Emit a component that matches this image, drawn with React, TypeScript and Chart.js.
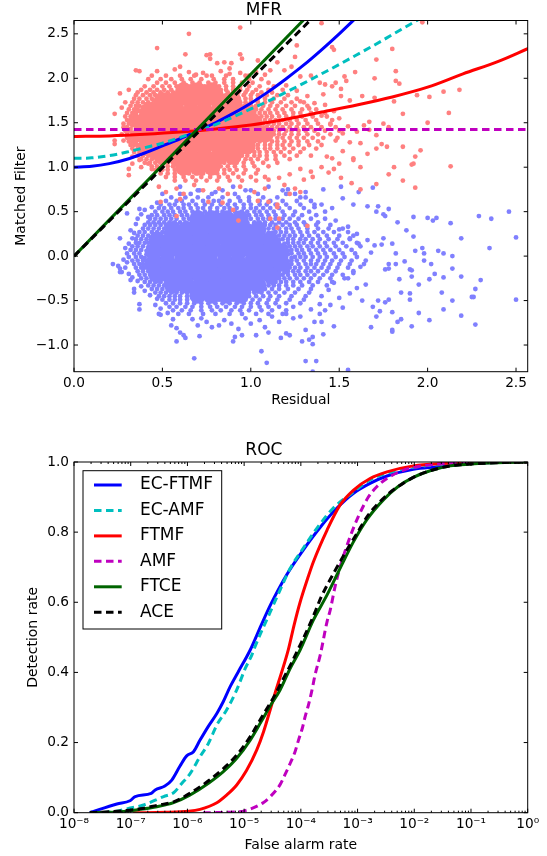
import React, { useEffect, useRef } from "react";
import { Chart, registerables } from "chart.js";

Chart.register(...registerables);

const FONT = '"DejaVu Sans"';

// ---------- MFR scatter, values in hundredths ----------
// Centres of the solid heart of each cloud: [y, x, x, ...]
const blueSolidRows: number[][] = [
  [42, 70,78,86,94],
  [30, 56,64,72,80,88,96,104],
  [18, 47,55,63,71,79,87,95,103,111],
  [5, 45,53,61,69,77,85,93,101,109,117],
  [-8, 45,53,61,69,77,85,93,101,109,117],
  [-21, 47,55,63,71,79,87,95,103,111],
  [-33, 56,64,72,80,88,96,104],
  [-44, 70,78,86,94],
];
const redSolidRows: number[][] = [
  [186, 62,70,78],
  [175, 50,58,66,74,82,90],
  [163, 42,50,58,66,74,82,90,98],
  [150, 38,46,54,62,70,78,86,94,102],
  [137, 38,46,54,62,70,78,86,94,102,108],
  [124, 42,50,58,66,74,82,90,98],
  [112, 50,58,66,74,82,90],
  [100, 62,70,78],
];

// Dense part of each cloud: every row is [y, x, x, x, ...]
const blueDenseRows: number[][] = [
  [34, 64,67,69,72,74,77,79,82,84,87,89,92,94,97,99],
  [30, 57,60,62,65,67,70,72,75,77,80,82,85,87,90,92,95,97,100,102,105,107],
  [26, 52,55,57,60,62,65,67,70,72,75,77,80,82,85,87,90,92,95,97,100,102,105,107,110,112],
  [22, 49,51,54,56,59,61,64,66,69,71,74,76,79,81,84,86,89,91,94,96,99,101,104,106,109,111,114],
  [18, 46,48,51,53,56,58,61,63,66,68,71,73,76,78,81,83,86,88,91,93,96,98,101,103,106,108,111,113,116],
  [14, 44,46,49,51,54,56,59,61,64,66,69,71,74,76,79,81,84,86,89,91,94,96,99,101,104,106,109,111,114,116,119],
  [10, 42,45,47,50,52,55,57,60,62,65,67,70,72,75,77,80,82,85,87,90,92,95,97,100,102,105,107,110,112,115,117,120],
  [6, 41,44,46,49,51,54,56,59,61,64,66,69,71,74,76,79,81,84,86,89,91,94,96,99,101,104,106,109,111,114,116,119,121],
  [2, 41,43,46,48,51,53,56,58,61,63,66,68,71,73,76,78,81,83,86,88,91,93,96,98,101,103,106,108,111,113,116,118,121],
  [-2, 40,43,45,48,50,53,55,58,60,63,65,68,70,73,75,78,80,83,85,88,90,93,95,98,100,103,105,108,110,113,115,118,120,123],
  [-6, 41,43,46,48,51,53,56,58,61,63,66,68,71,73,76,78,81,83,86,88,91,93,96,98,101,103,106,108,111,113,116,118,121],
  [-10, 41,44,46,49,51,54,56,59,61,64,66,69,71,74,76,79,81,84,86,89,91,94,96,99,101,104,106,109,111,114,116,119,121],
  [-14, 42,45,47,50,52,55,57,60,62,65,67,70,72,75,77,80,82,85,87,90,92,95,97,100,102,105,107,110,112,115,117,120],
  [-18, 44,46,49,51,54,56,59,61,64,66,69,71,74,76,79,81,84,86,89,91,94,96,99,101,104,106,109,111,114,116,119],
  [-22, 46,48,51,53,56,58,61,63,66,68,71,73,76,78,81,83,86,88,91,93,96,98,101,103,106,108,111,113,116],
  [-26, 49,51,54,56,59,61,64,66,69,71,74,76,79,81,84,86,89,91,94,96,99,101,104,106,109,111,114],
  [-30, 52,55,57,60,62,65,67,70,72,75,77,80,82,85,87,90,92,95,97,100,102,105,107,110,112],
  [-34, 57,60,62,65,67,70,72,75,77,80,82,85,87,90,92,95,97,100,102,105,107],
  [-38, 64,67,69,72,74,77,79,82,84,87,89,92,94,97,99],
];

const blueFringeRows: number[][] = [
  [74, 71,84,97,118],
  [70, 60,66,78,91,104,125],
  [66, 55,63,70,76,84,93,99,107,115,131],
  [62, 52,58,61,67,73,79,82,88,94,99,105,111,118,126],
  [58, 49,54,57,62,65,69,74,78,83,87,91,96,100,105,109,114,120,128,136],
  [54, 48,51,55,59,62,66,70,73,77,81,85,88,92,96,100,103,107,111,116,122,130],
  [50, 46,50,53,56,60,63,67,70,74,77,81,84,88,91,95,98,102,105,109,113,118,125,133],
  [46, 44,47,51,54,57,61,64,68,71,75,78,82,85,89,92,96,99,103,106,110,114,119,124,129,137],
  [42, 43,46,49,52,55,58,62,65,69,72,76,79,83,86,90,93,97,100,104,107,110,114,118,122,127,134,142],
  [38, 42,45,48,51,54,57,60,63,67,70,74,77,81,84,88,91,95,98,102,105,108,112,116,120,125,130,138],
  [35, 40,43,46,49,52,55,58,61, 102,105,108,111,114,118,122,126,131,137,145],
  [31, 39,42,45,48,51,54, 110,113,116,120,123,127,132,138,144,152],
  [27, 37,40,44,47,50, 114,117,120,124,128,132,136,141,147,155],
  [23, 36,39,42,46, 116,119,122,125,129,133,138,143,150,158],
  [19, 35,38,41,44, 118,121,124,128,131,135,139,144,149,156],
  [15, 35,37,40,42, 121,124,127,130,134,138,142,147,152,160],
  [11, 33,36,39, 122,125,128,132,135,139,143,148,154,162],
  [7, 32,35,38, 123,126,129,133,137,141,145,150,157],
  [3, 30,34,37, 123,127,130,134,138,142,147,152,159],
  [-1, 31,35,38, 125,128,131,135,139,143,148,153,160],
  [-5, 33,36,39, 123,126,130,134,138,142,146,151,157],
  [-9, 34,37,39, 123,127,131,134,137,141,145,150,156,164],
  [-13, 35,38,40, 122,125,128,132,136,140,144,149,155],
  [-17, 36,39,42, 121,124,127,131,134,138,143,148,158],
  [-21, 37,40,43, 118,121,125,128,132,136,141,146,152],
  [-25, 38,41,44,47, 116,119,122,126,130,134,139,145,153],
  [-29, 40,43,46,49, 114,117,120,124,128,133,138,146],
  [-33, 42,45,48,51,54, 110,113,116,120,124,129,135,143],
  [-37, 44,47,50,53,56,60, 102,105,108,112,116,121,127,134],
  [-41, 46,49,52,55,58,61,64,67,71,74,78,81,85,88,92,95,99,102,106,110,114,119,125,133],
  [-45, 48,51,54,57,60,64,67,71,74,78,81,85,88,92,95,99,103,107,111,116,123,131],
  [-49, 50,54,57,60,64,68,71,75,79,82,86,90,93,97,101,105,110,115,122,130],
  [-53, 52,56,60,64,68,72,76,80,84,88,92,96,100,104,109,114,120,128],
  [-57, 54,58,63,67,72,77,81,86,91,95,100,105,110,116,124],
  [-61, 56,61,66,72,78,83,89,94,99,106,112,120],
  [-65, 59,65,73,80,88,95,103,110,118],
];

const redDenseRows: number[][] = [
  [183, 57,60,62,65,67,70,72,75,77],
  [179, 50,52,55,57,60,62,65,67,70,72,75,77,80,82,85],
  [175, 45,48,50,53,55,58,60,63,65,68,70,73,75,78,80,83,85,88,90],
  [171, 41,44,46,49,51,54,56,59,61,64,66,69,71,74,76,79,81,84,86,89,91,94],
  [167, 39,41,44,46,49,51,54,56,59,61,64,66,69,71,74,76,79,81,84,86,89,91,94,96],
  [163, 37,39,42,44,47,49,52,54,57,59,62,64,67,69,72,74,77,79,82,84,87,89,92,94,97,99],
  [159, 35,38,40,43,45,48,50,53,55,58,60,63,65,68,70,73,75,78,80,83,85,88,90,93,95,98,100],
  [155, 34,36,39,41,44,46,49,51,54,56,59,61,64,66,69,71,74,76,79,81,84,86,89,91,94,96,99,101],
  [151, 33,35,38,40,43,45,48,50,53,55,58,60,63,65,68,70,73,75,78,80,83,85,88,90,93,95,98,100,103],
  [147, 33,35,38,40,43,45,48,50,53,55,58,60,63,65,68,70,73,75,78,80,83,85,88,90,93,95,98,100,103,105],
  [143, 32,35,37,40,42,45,47,50,52,55,57,60,62,65,67,70,72,75,77,80,82,85,87,90,92,95,97,100,102,105,107],
  [139, 33,35,38,40,43,45,48,50,53,55,58,60,63,65,68,70,73,75,78,80,83,85,88,90,93,95,98,100,103,105],
  [135, 33,36,38,41,43,46,48,51,53,56,58,61,63,66,68,71,73,76,78,81,83,86,88,91,93,96,98,101,103],
  [131, 34,36,39,41,44,46,49,51,54,56,59,61,64,66,69,71,74,76,79,81,84,86,89,91,94,96,99,101],
  [127, 35,38,40,43,45,48,50,53,55,58,60,63,65,68,70,73,75,78,80,83,85,88,90,93,95,98,100],
  [123, 37,39,42,44,47,49,52,54,57,59,62,64,67,69,72,74,77,79,82,84,87,89,92,94,97,99],
  [119, 39,41,44,46,49,51,54,56,59,61,64,66,69,71,74,76,79,81,84,86,89,91,94,96],
  [115, 41,44,46,49,51,54,56,59,61,64,66,69,71,74,76,79,81,84,86,89,91,94],
  [111, 45,48,50,53,55,58,60,63,65,68,70,73,75,78,80,83,85,88,90],
  [107, 50,52,55,57,60,62,65,67,70,72,75,77,80,82,85],
  [103, 57,60,62,65,67,70,72,75,77],
];

const redFringeRows: number[][] = [
  [203, 44,52,60,68,75,86,97],
  [199, 42,49,55,61,66,72,79,85,90,99,106],
  [195, 47,52,57,62,67,71,76,80,85,90,95,101,110],
  [191, 40,45,50,54,58,62,66,70,74,78,82,86,90,94,99,105,113],
  [187, 38,43,47,51,55,59,62,65,69,72,76,79,83,86,90,94,98,103,110,118],
  [184, 36,41,45,49,53,56,80,83,87,90,93,97,101,106,112],
  [181, 35,39,43,46,50,54,86,89,92,96,100,104,109,115,121],
  [177, 34,37,41,44,47,90,93,97,100,104,108,113,119,126],
  [173, 33,36,39,42,94,97,100,104,108,112,117,123,130],
  [169, 32,35,37,97,100,103,107,111,115,120,125,132],
  [165, 31,34,36,100,103,106,110,114,118,123,129,137],
  [161, 30,33,35,102,105,108,111,115,119,124,128,134,142],
  [157, 29,32,34,103,106,109,112,116,120,124,129,135,143],
  [153, 30,32,105,108,111,114,118,122,126,131,137,146],
  [149, 28,31,107,110,113,116,120,123,127,132,138,145],
  [145, 28,30,109,112,115,118,122,126,130,134,140,148],
  [141, 29,31,107,110,113,116,120,123,127,131,136,142,150],
  [137, 27,30,107,110,113,116,119,123,127,132,138,145],
  [133, 30,32,105,108,111,115,118,122,126,130,135,141,149],
  [129, 31,33,102,105,108,112,115,119,123,127,132,138],
  [125, 32,34,36,101,104,108,111,115,118,122,127,133,140],
  [121, 33,36,38,98,101,104,108,111,115,119,124,130,137],
  [117, 34,37,40,96,99,102,105,109,113,117,122,128],
  [113, 36,39,42,44,92,95,98,102,105,109,114,119,126,134],
  [109, 38,41,44,47,49,87,90,93,97,100,104,109,114,122],
  [105, 40,43,46,49,53,56,79,82,85,88,92,96,101,107,115],
  [101, 44,47,50,53,56,59,62,65,68,71,74,77,80,83,87,91,96,102,110],
  [97, 46,50,53,57,60,64,67,71,74,78,81,85,88,92,97,104],
  [93, 49,53,57,61,65,69,73,77,81,85,90,96,103],
  [89, 52,57,62,67,72,77,82,87,93,100,108],
  [85, 57,63,69,75,81,88,95,103],
];

// Loose points round each cloud: x, y, x, y, ...
const blueLoosePoints: number[] = [
  246,50, 229,45, 236,42, 250,21, 235,9, 219,20, 213,37, 203,40, 205,43, 200,43, 192,44, 183,38, 188,29, 192,22, 176,45, 175,47, 172,56, 178,53,
  175,20, 180,14, 174,13, 193,6, 197,9, 198,3, 206,6, 209,3, 214,0, 187,-6, 182,3, 178,-9, 182,-9, 198,-5, 202,-9, 214,-14, 190,-15, 191,-16, 204,-20, 201,-26, 209,-24, 219,-23, 230,-27, 184,-26, 191,-23, 195,-32, 176,-15, 178,-14,
  227,-37, 208,-41, 185,-41, 190,-42, 225,-46, 226,-46, 214,-50, 190,-49, 250,-49, 209,-60, 195,-64, 219,-67, 178,-49, 176,-52, 172,-50, 169,-57, 173,-62, 171,-68, 180,-63, 185,-71, 183,-74, 201,-72, 191,-79, 227,-77, 168,-80, 180,-83, 180,-85,
  147,-79, 139,-65, 140,-74, 136,-74, 131,-83, 141,-88, 135,-91, 133,-94, 135,-99, 129,-96, 131,-118, 137,-118, 135,-130, 155,-128, 120,-87, 122,-89, 117,-92,
  68,-115, 109,-120, 106,-107, 58,-96, 63,-92, 71,-90, 90,-96, 91,-91, 95,-89, 103,-89, 110,-86, 55,-78, 58,-81, 60,-86, 62,-89, 56,-71, 49,-66, 48,-65, 37,-60, 37,-54, 67,-71, 70,-78, 72,-70, 75,-74, 78,-80, 82,-78, 85,-72, 89,-76, 93,-82, 97,-70, 100,-76, 105,-72, 108,-80, 112,-68, 116,-74, 120,-65, 124,-70,
  22,-9, 25,-11, 26,-14, 27,-18, 26,-18, 32,-27, 34,-37, 34,-41, 26,20, 30,48, 32,29, 35,36, 37,53, 28,-4, 30,-7, 29,-13, 31,-20, 33,-24, 36,-28, 38,-34, 40,-39, 43,-44, 47,-48, 46,-55, 49,-59, 53,-64, 36,42, 38,47, 40,52, 44,55, 47,60, 42,44, 34,26, 33,20, 31,14, 29,9,
  50,70, 60,78, 70,74, 80,72, 90,78, 100,74, 110,78, 120,70, 128,66, 134,62, 140,58, 146,54, 152,65, 158,58, 166,56, 171,50, 121,75, 131,72, 141,75, 151,78, 161,72, 169,77,
  128,-68, 134,-60, 139,-54, 142,-61, 145,-55, 150,-47, 152,-58, 156,-42, 160,-36, 163,-50, 165,-32, 140,-45, 144,-38, 147,-30, 155,-25, 158,-19, 162,-12, 165,-5, 168,4, 170,12, 166,18, 160,25, 155,33, 148,40, 142,50, 136,55, 150,30, 156,20, 161,14,
];

const redLoosePoints: number[] = [
  94,257, 65,250, 47,234, 63,227, 75,226, 77,227, 94,227, 95,222, 77,222, 81,217, 85,218, 89,217, 104,220, 35,209, 37,208, 47,208, 57,210, 60,213, 65,207, 69,204, 73,206, 78,203, 83,208, 88,211, 88,205, 94,206, 99,203, 103,207, 108,204, 111,209, 115,218, 119,209, 123,213,
  26,183, 31,187, 29,173, 27,167, 23,160, 23,130, 23,126, 28,130, 33,112, 37,108, 31,98, 31,91, 33,104, 38,100, 42,104, 44,98,
  49,61, 58,45, 76,61, 90,52, 93,40, 110,61, 111,42, 115,32, 132,34, 116,42, 115,58, 115,55, 48,78, 52,72, 58,76, 62,70, 68,80, 73,74, 82,76, 87,70, 94,78, 102,72, 108,76, 122,70, 60,64, 84,60, 104,62, 128,72,
  140,262, 197,263, 146,235, 147,232, 180,233, 171,221, 125,224, 126,237, 128,202, 134,203, 159,207, 182,208, 182,197, 184,194, 170,200, 153,202, 154,197, 148,195, 139,195, 142,193, 146,191, 151,188, 141,182, 151,180, 163,180, 156,175, 170,178, 209,185, 218,187, 194,181, 201,179, 181,174, 186,160, 212,161, 200,150, 167,151, 175,149, 178,145, 164,147, 167,142, 171,136, 162,127, 174,126, 177,123, 186,123, 171,121, 196,119, 166,115, 193,112, 192,104, 191,103, 213,101, 158,108, 162,100, 181,100, 178,92, 186,85, 193,77, 171,81, 162,75, 157,82, 147,98, 151,88, 144,94, 135,89, 130,86, 125,76, 119,80,
  120,192, 126,186, 132,180, 128,174, 136,172, 133,166, 142,170, 147,163, 140,158, 150,155, 145,148, 155,146, 152,138, 160,140, 148,130, 156,128, 152,118, 146,110, 140,100, 134,95, 128,98, 122,92, 116,88, 110,86, 158,110, 150,104, 143,112,
];

// ---------- MFR curves ----------
const mfrEcFtmfX = [0, 0.1, 0.2, 0.3, 0.4, 0.5, 0.6, 0.7, 0.8, 0.9, 1.0, 1.1, 1.2, 1.3, 1.4, 1.5, 1.6];
const mfrEcFtmfY = [1.0, 1.01, 1.04, 1.09, 1.16, 1.24, 1.32, 1.41, 1.5, 1.605, 1.72, 1.85, 1.995, 2.15, 2.32, 2.5, 2.69];
const mfrEcAmfX = [0, 0.1, 0.2, 0.3, 0.4, 0.5, 0.6, 0.7, 0.8, 0.9, 1.0, 1.1, 1.2, 1.3, 1.4, 1.5, 1.6, 1.7, 1.8, 1.9, 2.0];
const mfrEcAmfY = [1.1, 1.105, 1.13, 1.17, 1.22, 1.27, 1.335, 1.405, 1.48, 1.565, 1.655, 1.745, 1.845, 1.945, 2.05, 2.155, 2.265, 2.375, 2.49, 2.605, 2.72];
const mfrFtmfX = [0, 0.2, 0.4, 0.6, 0.8, 1.0, 1.2, 1.4, 1.6, 1.8, 2.0, 2.2, 2.4, 2.57];
const mfrFtmfY = [1.345, 1.352, 1.37, 1.395, 1.43, 1.475, 1.54, 1.62, 1.7, 1.79, 1.9, 2.05, 2.19, 2.336];
const mfrAmfX = [0, 2.57];
const mfrAmfY = [1.423, 1.423];
const mfrFtceX = [0, 1.31];
const mfrFtceY = [0, 2.68];
const mfrAceX = [0, 1.35];
const mfrAceY = [0, 2.68];

// ---------- ROC curves ----------
const rocEcFtmfX = [1.9e-8, 5.7e-8, 9.7e-8, 1.2e-7, 2.3e-7, 2.7e-7, 4e-7, 5.3e-7, 7.4e-7, 9.7e-7, 1.28e-6, 1.67e-6, 2.35e-6, 3.3e-6, 4.3e-6, 5.7e-6, 7.9e-6, 1.28e-5, 2e-5, 2.9e-5, 5.6e-5, 1.1e-4, 2.2e-4, 4.3e-4, 8.5e-4, 1.66e-3, 3.3e-3, 9.6e-3, 0.025, 0.096, 1];
const rocEcFtmfY = [0, 0.025, 0.034, 0.046, 0.055, 0.065, 0.076, 0.093, 0.133, 0.162, 0.174, 0.207, 0.247, 0.283, 0.317, 0.36, 0.402, 0.464, 0.535, 0.592, 0.678, 0.749, 0.814, 0.868, 0.911, 0.939, 0.96, 0.979, 0.986, 0.996, 1];
const rocEcAmfX = [2e-8, 5e-8, 9.1e-8, 1.68e-7, 3.8e-7, 5.7e-7, 8e-7, 1.1e-6, 1.67e-6, 2.35e-6, 3.3e-6, 4.9e-6, 7.4e-6, 1.05e-5, 1.37e-5, 1.55e-5, 2.9e-5, 4.3e-5, 6.5e-5, 1.1e-4, 2e-4, 3.7e-4, 7.9e-4, 1.66e-3, 3.3e-3, 9.6e-3, 0.025, 0.096, 1];
const rocEcAmfY = [0, 0.003, 0.012, 0.022, 0.046, 0.057, 0.084, 0.11, 0.16, 0.198, 0.25, 0.293, 0.35, 0.412, 0.45, 0.473, 0.573, 0.635, 0.697, 0.754, 0.815, 0.868, 0.911, 0.949, 0.968, 0.985, 0.992, 0.998, 1];
const rocFtmfX = [1.1e-7, 4.3e-7, 1.05e-6, 1.67e-6, 3.3e-6, 4.9e-6, 7.4e-6, 1.1e-5, 1.67e-5, 2.2e-5, 2.9e-5, 3.5e-5, 6e-5, 7.6e-5, 9.7e-5, 1.3e-4, 1.66e-4, 2.9e-4, 4.9e-4, 8.5e-4, 1.66e-3, 3.3e-3, 9.6e-3, 0.032, 0.096, 1];
const rocFtmfY = [0, 0.001, 0.004, 0.0095, 0.0285, 0.05, 0.079, 0.12, 0.179, 0.231, 0.295, 0.34, 0.464, 0.535, 0.6, 0.665, 0.715, 0.806, 0.877, 0.92, 0.953, 0.972, 0.989, 0.996, 0.999, 1];
const rocAmfX = [1.9e-6, 5e-6, 1.05e-5, 2.2e-5, 2.9e-5, 4.3e-5, 5.2e-5, 6.5e-5, 7.9e-5, 9.1e-5, 1.07e-4, 1.19e-4, 1.36e-4, 1.55e-4, 1.78e-4, 2.2e-4, 2.9e-4, 3.3e-4, 4e-4, 4.9e-4, 7.4e-4, 1.03e-3, 1.55e-3, 2.2e-3, 3.3e-3, 6.5e-3, 0.0126, 0.04, 0.1, 1];
const rocAmfY = [0, 0.001, 0.006, 0.029, 0.046, 0.08, 0.107, 0.141, 0.174, 0.207, 0.243, 0.274, 0.307, 0.345, 0.393, 0.45, 0.545, 0.578, 0.644, 0.7, 0.787, 0.844, 0.9, 0.93, 0.953, 0.977, 0.988, 0.996, 1, 1];
const rocFtceX = [1.9e-8, 5.7e-8, 1.46e-7, 2.9e-7, 5.7e-7, 1.1e-6, 2.35e-6, 4.3e-6, 7.4e-6, 1.28e-5, 2e-5, 2.9e-5, 4.3e-5, 6.5e-5, 9.7e-5, 1.66e-4, 2.9e-4, 4.6e-4, 8.5e-4, 1.45e-3, 2.85e-3, 5.2e-3, 9.6e-3, 0.019, 0.043, 0.096, 0.28, 1];
const rocFtceY = [0, 0.002, 0.0095, 0.017, 0.0285, 0.05, 0.084, 0.117, 0.155, 0.207, 0.26, 0.305, 0.35, 0.412, 0.464, 0.549, 0.621, 0.687, 0.773, 0.835, 0.892, 0.93, 0.956, 0.975, 0.989, 0.994, 0.998, 1];
const rocAceX = [1.9e-8, 5.7e-8, 1.46e-7, 2.9e-7, 5.7e-7, 1.1e-6, 2.35e-6, 4.3e-6, 7.4e-6, 1.28e-5, 2e-5, 3.5e-5, 5.2e-5, 6.9e-5, 8.5e-5, 1.04e-4, 1.55e-4, 2.3e-4, 3.7e-4, 6e-4, 9.8e-4, 1.55e-3, 3.3e-3, 5.2e-3, 9.6e-3, 0.019, 0.043, 0.096, 0.28, 1];
const rocAceY = [0, 0.004, 0.011, 0.021, 0.031, 0.055, 0.091, 0.126, 0.164, 0.217, 0.27, 0.336, 0.39, 0.428, 0.459, 0.488, 0.549, 0.616, 0.68, 0.74, 0.797, 0.849, 0.906, 0.93, 0.956, 0.975, 0.989, 0.994, 0.998, 1];

// ---------- Ticks ----------
const mfrXTicks = [0, 0.5, 1.0, 1.5, 2.0, 2.5];
const mfrYTicks = [-1, -0.5, 0, 0.5, 1, 1.5, 2, 2.5];
const rocYTicks = [0, 0.2, 0.4, 0.6, 0.8, 1];
const rocXTicks = [1e-8, 1e-7, 1e-6, 1e-5, 1e-4, 1e-3, 1e-2, 1e-1, 1];
const rocXTickLabels = ["10⁻⁸", "10⁻⁷", "10⁻⁶", "10⁻⁵", "10⁻⁴", "10⁻³", "10⁻²", "10⁻¹", "10⁰"];
const minorMultipliers = [2, 3, 4, 5, 6, 7, 8, 9];

const seriesNames = ["EC-FTMF", "EC-AMF", "FTMF", "AMF", "FTCE", "ACE"];
const seriesColors = ["#0000ff", "#00bfbf", "#ff0000", "#bf00bf", "#006400", "#000000"];
const seriesDashed = [false, true, false, true, false, true];

const DASH = [7.5, 4.5];
const zip = (xs: number[], ys: number[]) => xs.map((x, i) => ({ x, y: ys[i] }));
const fromRows = (rows: number[][]) =>
  rows.flatMap((r) => r.slice(1).map((x) => ({ x: x / 100, y: r[0] / 100 })));
const fromPairs = (p: number[]) => {
  const out: { x: number; y: number }[] = [];
  for (let i = 0; i < p.length; i += 2) out.push({ x: p[i] / 100, y: p[i + 1] / 100 });
  return out;
};

// Chart.js paints higher `order` first, so the last series ends up on top.
const lineDatasets = (curves: { x: number; y: number }[][]) =>
  curves.map((data, i) => ({
    label: seriesNames[i],
    data,
    order: curves.length - i,
    showLine: true,
    borderColor: seriesColors[i],
    backgroundColor: seriesColors[i],
    borderWidth: 3,
    borderDash: seriesDashed[i] ? DASH : [],
    pointRadius: 0,
    cubicInterpolationMode: "monotone" as const,
  }));

const framePlugin = {
  id: "frame",
  afterDatasetsDraw(chart: any) {
    const { ctx, chartArea: a, scales } = chart;
    const xs = scales.x;
    const ys = scales.y;
    ctx.save();
    ctx.strokeStyle = "#000";
    ctx.lineWidth = 1;
    const tickX = (v: number, len: number) => {
      const p = xs.getPixelForValue(v);
      ctx.beginPath();
      ctx.moveTo(p, a.bottom);
      ctx.lineTo(p, a.bottom - len);
      ctx.moveTo(p, a.top);
      ctx.lineTo(p, a.top + len);
      ctx.stroke();
    };
    const tickY = (v: number, len: number) => {
      const p = ys.getPixelForValue(v);
      ctx.beginPath();
      ctx.moveTo(a.left, p);
      ctx.lineTo(a.left + len, p);
      ctx.moveTo(a.right, p);
      ctx.lineTo(a.right - len, p);
      ctx.stroke();
    };
    xs.ticks.forEach((t: any) => tickX(t.value, 4));
    ys.ticks.forEach((t: any) => tickY(t.value, 4));
    if (xs.type === "logarithmic") {
      rocXTicks.slice(0, -1).forEach((d) => minorMultipliers.forEach((m) => tickX(d * m, 2)));
    }
    ctx.strokeRect(a.left, a.top, a.right - a.left, a.bottom - a.top);
    ctx.restore();
  },
};

// Legend box of the ROC panel, filled from the chart's own datasets.
const rocLegendPlugin = {
  id: "rocLegend",
  afterDatasetsDraw(chart: any) {
    const { ctx } = chart;
    const top = 40.7;
    ctx.save();
    ctx.fillStyle = "#fff";
    ctx.strokeStyle = "#000";
    ctx.lineWidth = 1;
    ctx.fillRect(83, top, 138.7, 158.3);
    ctx.strokeRect(83, top, 138.7, 158.3);
    ctx.font = `17px ${FONT}`;
    ctx.textBaseline = "middle";
    ctx.textAlign = "left";
    chart.data.datasets.forEach((d: any, i: number) => {
      const y = top + 14.3 + i * 25.45;
      ctx.strokeStyle = d.borderColor;
      ctx.lineWidth = 3;
      ctx.setLineDash(d.borderDash || []);
      ctx.beginPath();
      ctx.moveTo(94, y);
      ctx.lineTo(121.7, y);
      ctx.stroke();
      ctx.setLineDash([]);
      ctx.fillStyle = "#000";
      ctx.fillText(d.label, 140, y);
    });
    ctx.restore();
  },
};

const tickFont = { family: FONT, size: 13.7 };
const labelFont = { family: FONT, size: 14 };
const titleFont = { family: FONT, size: 17, weight: "normal" as const };

const axisBase = (text: string, padding: any, fit: (s: any) => void, ticks: number[], cb: (v: number, i: number) => string, tickPad: number) => ({
  title: { display: true, text, color: "#000", font: labelFont, padding },
  grid: { display: false, drawTicks: false },
  border: { display: false },
  ticks: { color: "#000", font: tickFont, autoSkip: false, maxRotation: 0, minRotation: 0, padding: tickPad, callback: (v: any, i: number) => cb(v, i) },
  afterBuildTicks: (s: any) => { s.ticks = ticks.map((value) => ({ value })); },
  afterFit: fit,
});

const minusFmt = (d: number) => (v: number) => (v < 0 ? "\u2212" : "") + Math.abs(v).toFixed(d);

export default function App() {
  const topRef = useRef<HTMLCanvasElement>(null);
  const botRef = useRef<HTMLCanvasElement>(null);

  useEffect(() => {
    const mfr = new Chart(topRef.current!, {
      type: "scatter",
      data: {
        datasets: [
          { label: "Non-target core", data: fromRows(blueSolidRows), order: 13, backgroundColor: "#8080ff", borderWidth: 0, pointRadius: 8.5 },
          { label: "Non-target", data: [...fromRows(blueDenseRows), ...fromRows(blueFringeRows), ...fromPairs(blueLoosePoints)], order: 12, backgroundColor: "#8080ff", borderWidth: 0, pointRadius: 2.4 },
          { label: "Target core", data: fromRows(redSolidRows), order: 11, backgroundColor: "#ff8080", borderWidth: 0, pointRadius: 8.5 },
          { label: "Target", data: [...fromRows(redDenseRows), ...fromRows(redFringeRows), ...fromPairs(redLoosePoints)], order: 10, backgroundColor: "#ff8080", borderWidth: 0, pointRadius: 2.4 },
          ...lineDatasets([
            zip(mfrEcFtmfX, mfrEcFtmfY),
            zip(mfrEcAmfX, mfrEcAmfY),
            zip(mfrFtmfX, mfrFtmfY),
            zip(mfrAmfX, mfrAmfY),
            zip(mfrFtceX, mfrFtceY),
            zip(mfrAceX, mfrAceY),
          ]),
        ] as any,
      },
      options: {
        animation: false,
        responsive: false,
        devicePixelRatio: 1,
        layout: { autoPadding: false, padding: { left: 0, right: 19.3, top: 0, bottom: 0 } },
        plugins: {
          legend: { display: false },
          tooltip: { enabled: false },
          title: { display: true, text: "MFR", color: "#000", font: titleFont, padding: { top: 0, bottom: 0.1 } },
        },
        scales: {
          x: { type: "linear", min: 0, max: 2.566, ...axisBase("Residual", { bottom: 21.6 }, (s) => { s.height = 58.3; }, mfrXTicks, minusFmt(1), 4) },
          y: { type: "linear", min: -1.3, max: 2.65, ...axisBase("Matched Filter", { top: 13.3 }, (s) => { s.width = 74; }, mfrYTicks, minusFmt(1), 5) },
        } as any,
      },
      plugins: [framePlugin],
    });

    const roc = new Chart(botRef.current!, {
      type: "scatter",
      data: {
        datasets: lineDatasets([
          zip(rocEcFtmfX, rocEcFtmfY),
          zip(rocEcAmfX, rocEcAmfY),
          zip(rocFtmfX, rocFtmfY),
          zip(rocAmfX, rocAmfY),
          zip(rocFtceX, rocFtceY),
          zip(rocAceX, rocAceY),
        ]) as any,
      },
      options: {
        animation: false,
        responsive: false,
        devicePixelRatio: 1,
        layout: { autoPadding: false, padding: { left: 0, right: 19.3, top: 0, bottom: 0 } },
        plugins: {
          legend: { display: false },
          tooltip: { enabled: false },
          title: { display: true, text: "ROC", color: "#000", font: titleFont, padding: { top: 10.5, bottom: 1.1 } },
        },
        scales: {
          x: { type: "logarithmic", min: 1e-8, max: 1, ...axisBase("False alarm rate", { bottom: 2.6 }, (s) => { s.height = 43.3; }, rocXTicks, (_v, i) => rocXTickLabels[i], 4) },
          y: { type: "linear", min: 0, max: 1, ...axisBase("Detection rate", { top: 25 }, (s) => { s.width = 74; }, rocYTicks, minusFmt(1), 5) },
        } as any,
      },
      plugins: [framePlugin, rocLegendPlugin],
    });

    return () => {
      mfr.destroy();
      roc.destroy();
    };
  }, []);

  return (
    <div style={{ position: "fixed", left: 0, top: 0, width: 547, height: 856, background: "#fff" }}>
      <canvas ref={topRef} width={547} height={430} style={{ position: "absolute", left: 0, top: 0 }} />
      <canvas ref={botRef} width={547} height={426} style={{ position: "absolute", left: 0, top: 430 }} />
    </div>
  );
}
